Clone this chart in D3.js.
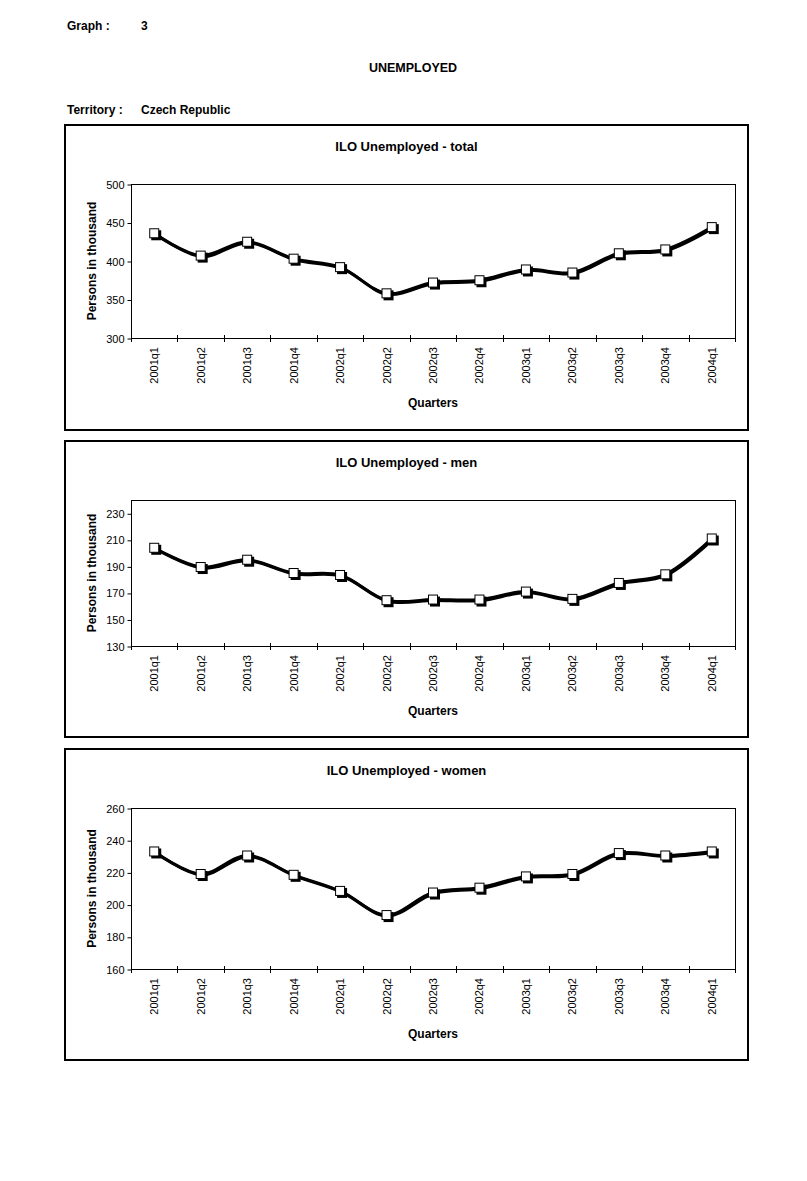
<!DOCTYPE html>
<html>
<head>
<meta charset="utf-8">
<script src="https://cdn.jsdelivr.net/npm/d3@7"></script>
<style>
  html, body { margin: 0; padding: 0; background: #fff; }
  text { font-family: "Liberation Sans", Arial, sans-serif; fill: #000; }
</style>
</head>
<body>
<svg id="chart" width="807" height="1181"></svg>
<script>
const quarters = ["2001q1","2001q2","2001q3","2001q4","2002q1","2002q2","2002q3","2002q4","2003q1","2003q2","2003q3","2003q4","2004q1"];
const totalValues = [436, 407, 425, 403, 392, 358, 372, 375, 389, 385, 410, 415, 444];
const menValues   = [204, 189.5, 195, 185, 183.5, 164.5, 165, 165, 171, 165.5, 177.5, 184, 211];
const womenValues = [233, 219, 230.5, 218.5, 208.5, 193.5, 207.5, 210.5, 217.5, 219, 232, 230.5, 233];
const totalTicks = [300, 350, 400, 450, 500];
const menTicks   = [130, 150, 170, 190, 210, 230];
const womenTicks = [160, 180, 200, 220, 240, 260];
const panelTitles = ["ILO Unemployed - total", "ILO Unemployed - men", "ILO Unemployed - women"];

const svg = d3.select("#chart");

// Header
svg.append("text").attr("x", 67).attr("y", 30).attr("font-size", 12).attr("font-weight", "bold").text("Graph :");
svg.append("text").attr("x", 141).attr("y", 30).attr("font-size", 12).attr("font-weight", "bold").text("3");
svg.append("text").attr("x", 413).attr("y", 72).attr("font-size", 12.5).attr("font-weight", "bold").attr("text-anchor", "middle").text("UNEMPLOYED");
svg.append("text").attr("x", 67).attr("y", 114).attr("font-size", 12).attr("font-weight", "bold").text("Territory :");
svg.append("text").attr("x", 141).attr("y", 114).attr("font-size", 12).attr("font-weight", "bold").text("Czech Republic");

const panels = [
  { title: panelTitles[0], values: totalValues, ticks: totalTicks, box: [64, 124, 749, 431], plot: [131, 184, 735, 338] },
  { title: panelTitles[1], values: menValues,   ticks: menTicks,   box: [64, 440, 749, 738], plot: [131, 500, 735, 646], domainMax: 240 },
  { title: panelTitles[2], values: womenValues, ticks: womenTicks, box: [64, 748, 749, 1061], plot: [131, 808, 735, 969] }
];

panels.forEach(p => {
  const g = svg.append("g");
  const [bx0, by0, bx1, by1] = p.box;
  const [px0, py0, px1, py1] = p.plot;
  g.append("rect").attr("x", bx0 + 1).attr("y", by0 + 1).attr("width", bx1 - bx0 - 2).attr("height", by1 - by0 - 2)
    .attr("fill", "#fff").attr("stroke", "#000").attr("stroke-width", 2);

  g.append("text").attr("x", (bx0 + bx1) / 2).attr("y", by0 + 27).attr("text-anchor", "middle")
    .attr("font-size", 13).attr("font-weight", "bold").text(p.title);

  const x = d3.scaleBand().domain(quarters).range([px0, px1]);
  const yMin = p.ticks[0];
  const yMax = p.domainMax !== undefined ? p.domainMax : p.ticks[p.ticks.length - 1];
  const y = d3.scaleLinear().domain([yMin, yMax]).range([py1, py0]);

  // plot area frame
  g.append("rect").attr("x", px0 + 0.5).attr("y", py0 + 0.5).attr("width", px1 - px0).attr("height", py1 - py0)
    .attr("fill", "none").attr("stroke", "#000").attr("stroke-width", 1);

  // y axis
  const yAxis = d3.axisLeft(y).tickValues(p.ticks).tickSize(4).tickPadding(3).tickFormat(d3.format("d"));
  const ya = g.append("g").attr("transform", `translate(${px0 + 0.5},0.5)`).call(yAxis);
  ya.select(".domain").remove();
  ya.selectAll("text").attr("font-size", 11).attr("font-family", "'Liberation Sans', Arial, sans-serif").attr("fill", "#000");
  ya.selectAll("line").attr("stroke", "#000");

  // x axis: ticks at category boundaries (cross style)
  const bounds = quarters.map(q => x(q)).concat([px1]);
  g.selectAll(".xt").data(bounds).enter().append("line")
    .attr("x1", d => Math.round(d) + 0.5).attr("x2", d => Math.round(d) + 0.5)
    .attr("y1", py1 - 3).attr("y2", py1 + 4).attr("stroke", "#000").attr("stroke-width", 1);
  g.selectAll(".xl").data(quarters).enter().append("text")
    .attr("transform", d => `translate(${x(d) + x.bandwidth() / 2 + 4},${py1 + 9}) rotate(-90)`)
    .attr("text-anchor", "end").attr("font-size", 11).text(d => d);

  // axis titles
  g.append("text").attr("x", (px0 + px1) / 2).attr("y", py1 + 69).attr("text-anchor", "middle")
    .attr("font-size", 12).attr("font-weight", "bold").text("Quarters");
  g.append("text").attr("transform", `translate(${96},${(py0 + py1) / 2}) rotate(-90)`)
    .attr("text-anchor", "middle").attr("font-size", 12).attr("font-weight", "bold").text("Persons in thousand");

  // line
  const pts = quarters.map((q, i) => [x(q) + x.bandwidth() / 2, y(p.values[i])]);
  const line = d3.line().curve(d3.curveCatmullRom.alpha(0.5));
  g.append("path").attr("d", line(pts.map(d => [d[0] + 1, d[1] + 1]))).attr("fill", "none").attr("stroke", "#000").attr("stroke-width", 3);
  g.append("path").attr("d", line(pts)).attr("fill", "none").attr("stroke", "#000").attr("stroke-width", 3);

  // markers with shadow
  const s = 10;
  g.selectAll(".ms").data(pts).enter().append("rect")
    .attr("x", d => d[0] - s / 2 + 2).attr("y", d => d[1] - s / 2 + 2).attr("width", s).attr("height", s).attr("fill", "#000");
  g.selectAll(".mk").data(pts).enter().append("rect")
    .attr("x", d => d[0] - s / 2 + 0.5).attr("y", d => d[1] - s / 2 + 0.5).attr("width", s - 1).attr("height", s - 1)
    .attr("fill", "#fff").attr("stroke", "#000").attr("stroke-width", 1);
});
</script>
</body>
</html>
